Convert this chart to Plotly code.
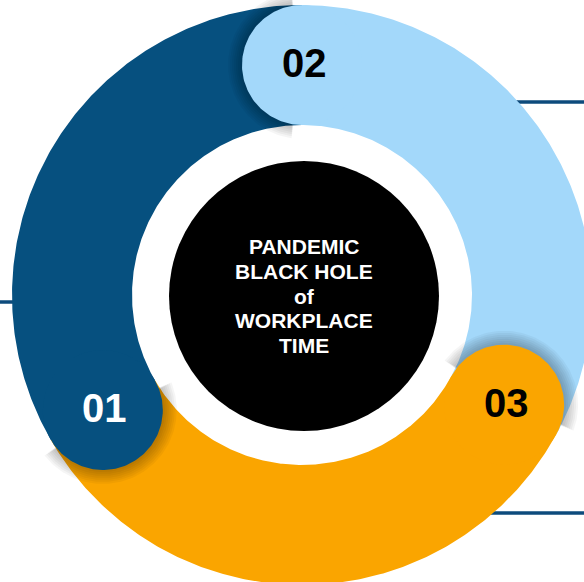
import numpy as np
import plotly.graph_objects as go

# ---------------- data ----------------
labels = ["01", "02", "03"]
shares = [120, 118.5, 121.5]            # arc span of each stage (degrees)
colors = ["#06507F", "#A3D8FA", "#FAA500"]
label_colors = ["#FFFFFF", "#000000", "#000000"]
center_lines = ["PANDEMIC", "BLACK HOLE", "of", "WORKPLACE", "TIME"]

# ---------------- layout geometry (pixels) ----------------
W, H = 584, 582
CX, CY = 302, 295            # ring centre, from top-left
R_OUT, R_IN = 290, 170
R_MID = (R_OUT + R_IN) / 2
CAP_R = (R_OUT - R_IN) / 2
START = 210                  # angle (deg) of first cap, going clockwise
BLACK_R = 135
BLACK_DX, BLACK_DY = 2, -1
LINE_COLOR = "#0D4B7C"

total = sum(shares)
spans = [s / total * 360 for s in shares]
cap_angles = []
a = START
for sp in spans:
    cap_angles.append(a)
    a -= sp


def arc(r, a0, a1, n=240, cx=0.0, cy=0.0):
    t = np.radians(np.linspace(a0, a1, n))
    return cx + r * np.cos(t), cy + r * np.sin(t)


fig = go.Figure()

# leader lines (behind the ring)
for (x0, x1, y) in [(-CX, -250, -7), (190, W - CX, 193), (150, W - CX, -218)]:
    fig.add_trace(go.Scatter(x=[x0, x1], y=[y, y], mode="lines",
                             line=dict(color=LINE_COLOR, width=3.3),
                             hoverinfo="skip", showlegend=False))

# bands
for i, (a0, sp) in enumerate(zip(cap_angles, spans)):
    xo, yo = arc(R_OUT, a0, a0 - sp)
    xi, yi = arc(R_IN, a0 - sp, a0)
    fig.add_trace(go.Scatter(x=np.r_[xo, xi], y=np.r_[yo, yi], fill="toself",
                             fillcolor=colors[i], line=dict(width=0),
                             mode="lines", hoverinfo="skip", showlegend=False))

# soft shadows cast by each cap on the previous band
for a0 in cap_angles:
    ccx = R_MID * np.cos(np.radians(a0))
    ccy = R_MID * np.sin(np.radians(a0))
    for k in [2, 4, 6, 8, 10, 12, 14]:
        xs, ys = arc(CAP_R + k, a0 + 8, a0 + 172, n=120, cx=ccx, cy=ccy)
        fig.add_trace(go.Scatter(x=xs, y=ys, fill="toself",
                                 fillcolor="rgba(0,0,0,0.04)", line=dict(width=0),
                                 mode="lines", hoverinfo="skip", showlegend=False))

# rounded caps
for i, a0 in enumerate(cap_angles):
    ccx = R_MID * np.cos(np.radians(a0))
    ccy = R_MID * np.sin(np.radians(a0))
    xs, ys = arc(CAP_R, 0, 360, n=200, cx=ccx, cy=ccy)
    fig.add_trace(go.Scatter(x=xs, y=ys, fill="toself", fillcolor=colors[i],
                             line=dict(width=0), mode="lines",
                             hoverinfo="skip", showlegend=False))

# black centre disc
fig.add_shape(type="circle", xref="x", yref="y", layer="above",
              x0=BLACK_DX - BLACK_R, x1=BLACK_DX + BLACK_R,
              y0=BLACK_DY - BLACK_R, y1=BLACK_DY + BLACK_R,
              fillcolor="#000000", line=dict(width=0))

# number labels
for i, a0 in enumerate(cap_angles):
    ccx = R_MID * np.cos(np.radians(a0))
    ccy = R_MID * np.sin(np.radians(a0))
    fig.add_annotation(x=ccx + 2, y=ccy + 2, text="<b>%s</b>" % labels[i],
                       showarrow=False, xanchor="center", yanchor="middle",
                       font=dict(family="Liberation Sans, Arial", size=40,
                                 color=label_colors[i]))

# centre text
pitch = 24.7
n = len(center_lines)
for j, line in enumerate(center_lines):
    y = BLACK_DY + ((n - 1) / 2 - j) * pitch
    fig.add_annotation(x=BLACK_DX, y=y, text="<b>%s</b>" % line, showarrow=False,
                       xanchor="center", yanchor="middle",
                       font=dict(family="Liberation Sans, Arial", size=21,
                                 color="#FFFFFF"))

fig.update_xaxes(range=[-CX, W - CX], visible=False, fixedrange=True)
fig.update_yaxes(range=[-(H - CY), CY], visible=False, fixedrange=True)
fig.update_layout(width=W, height=H, autosize=False,
                  margin=dict(l=0, r=0, t=0, b=0),
                  paper_bgcolor="#FFFFFF", plot_bgcolor="#FFFFFF",
                  showlegend=False)

fig.write_html("out.html", config={"displayModeBar": False},
               post_script="document.body.style.margin='0';"
                           "document.body.style.overflow='hidden';")
